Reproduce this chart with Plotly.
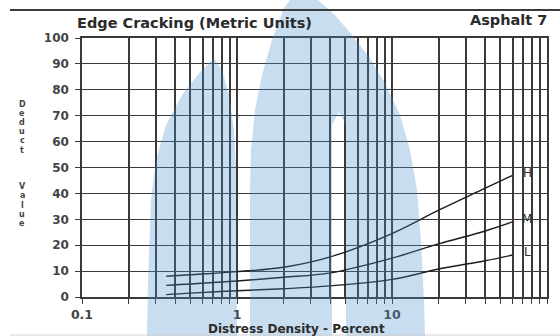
import math
import plotly.graph_objects as go

# Deduct value curves for edge cracking (asphalt), by severity level
density = [0.35, 0.5, 1, 2, 4, 10, 20, 40, 60]
high = [8.0, 8.6, 9.8, 11.5, 15.5, 24.5, 33.5, 42.0, 47.0]
medium = [4.5, 5.0, 6.2, 7.6, 9.3, 15.0, 20.5, 25.5, 29.0]
low = [0.9, 1.5, 2.4, 3.2, 4.3, 6.8, 10.8, 14.0, 16.2]
severity = ["H", "M", "L"]

y_ticks = list(range(0, 101, 10))

W, H = 560, 336
# chart frame on the page, in pixels
FX0, FX1, FY0, FY1 = 82, 547, 38, 297


def paper(px, py):
    """Pixel position on the page -> paper coordinates (no margins)."""
    return px / W, 1 - py / H


font = "DejaVu Sans"
ink = "#2b2b2b"
grid = "#3a3a3a"

fig = go.Figure()

labels = []
for name, vals in zip(severity, [high, medium, low]):
    fig.add_trace(go.Scatter(
        x=density, y=vals, mode="lines", line_shape="spline", xaxis="x", yaxis="y",
        line=dict(color="#1c1c1c", width=1.4), showlegend=False, hoverinfo="skip",
    ))
    # log axis: annotation x is given in log10 units
    labels.append(dict(
        x=math.log10(density[-1] * 1.24), y=vals[-1] + 1, xref="x", yref="y", text=name,
        showarrow=False, font=dict(family=font, size=12, color=ink),
        xanchor="center", yanchor="middle",
    ))

# translucent blue emblem over the sheet (grid and ink show through),
# drawn on a page-sized subplot in pixel units
left_lobe = [(147, 336), (148, 280), (151, 200), (156, 160), (166, 125), (182, 95),
             (200, 72), (214, 58), (222, 70), (229, 95), (234, 130), (236, 170), (237, 336)]
main_body = [(250, 336), (250, 190), (251, 150), (255, 110), (262, 75), (272, 40),
             (284, 8), (290, 0), (318, 0), (335, 15), (352, 35), (370, 58), (386, 85),
             (400, 115), (410, 150), (417, 190), (421, 240), (424, 300), (425, 336),
             (346, 336), (346, 125), (339, 112), (332, 125), (332, 336)]
for poly in (left_lobe, main_body):
    xs = [p[0] for p in poly] + [poly[0][0]]
    ys = [p[1] for p in poly] + [poly[0][1]]
    fig.add_trace(go.Scatter(
        x=xs, y=ys, xaxis="x2", yaxis="y2", mode="lines", fill="toself",
        fillcolor="rgba(72,142,205,0.3)", line=dict(width=0), showlegend=False,
        hoverinfo="skip",
    ))

# all log minor positions carry a grid line; only decades are labelled
x_vals, x_text = [], []
for dec in [0.1, 1, 10]:
    for k in range(1, 10):
        v = round(dec * k, 6)
        x_vals.append(v)
        x_text.append(str(v if v < 1 else int(v)) if k == 1 else "")
x_vals.append(100)
x_text.append("100")

fig.update_layout(
    xaxis=dict(
        domain=[FX0 / W, FX1 / W], anchor="y",
        type="log", range=[-1, 2], tickvals=x_vals, ticktext=x_text,
        showgrid=True, gridcolor=grid, gridwidth=1.5,
        ticks="outside", ticklen=5, tickcolor=grid, tickwidth=1.3,
        showline=True, linecolor=grid, linewidth=1.5, mirror=True,
        zeroline=False, ticklabelstandoff=0, automargin=False,
        tickfont=dict(family=font, size=12.5, color="#444", weight="bold"),
    ),
    yaxis=dict(
        domain=[1 - FY1 / H, 1 - FY0 / H], anchor="x",
        range=[0, 100], tickvals=y_ticks,
        showgrid=True, gridcolor=grid, gridwidth=1.4,
        ticks="outside", ticklen=5, tickcolor=grid, tickwidth=1.3,
        showline=True, linecolor=grid, linewidth=1.5, mirror=True,
        zeroline=False, ticklabelstandoff=4, automargin=False,
        tickfont=dict(family=font, size=12, color="#444", weight="bold"),
    ),
    xaxis2=dict(domain=[0, 1], range=[0, W], anchor="y2", visible=False, fixedrange=True),
    yaxis2=dict(domain=[0, 1], range=[H, 0], anchor="x2", visible=False, fixedrange=True),
)

# rule above the heading and faint edge at the foot
shapes = []
x0, y0 = paper(10, 10)
x1, _ = paper(560, 10)
shapes.append(dict(type="line", xref="paper", yref="paper", x0=x0, x1=x1, y0=y0, y1=y0,
                   line=dict(color="#3c3c3c", width=2.2)))
x0, y0 = paper(10, 335)
shapes.append(dict(type="line", xref="paper", yref="paper", x0=x0, x1=x1, y0=y0, y1=y0,
                   line=dict(color="#d0d0d0", width=1)))

annotations = list(labels)
tx, ty = paper(75, 23)
annotations.append(dict(x=tx, y=ty, xref="paper", yref="paper", text="Edge Cracking (Metric Units)",
                        showarrow=False, xanchor="left", yanchor="middle",
                        font=dict(family=font, size=14.5, color=ink, weight="bold")))
tx, ty = paper(549, 20)
annotations.append(dict(x=tx, y=ty, xref="paper", yref="paper", text="Asphalt 7",
                        showarrow=False, xanchor="right", yanchor="middle",
                        font=dict(family=font, size=14.5, color=ink, weight="bold")))
tx, ty = paper(296, 329)
annotations.append(dict(x=tx, y=ty, xref="paper", yref="paper", text="Distress Density - Percent",
                        showarrow=False, xanchor="center", yanchor="middle",
                        font=dict(family=font, size=12, color=ink, weight="bold")))

# vertical, stacked y-axis title
letters = list("Deduct") + [None] * 3 + list("Value")
y_pos = 104
for ch in letters:
    if ch is not None:
        lx, ly = paper(22, y_pos)
        annotations.append(dict(x=lx, y=ly, xref="paper", yref="paper", text=ch,
                                showarrow=False, xanchor="center", yanchor="middle",
                                font=dict(family=font, size=8, color="#444", weight="bold")))
    y_pos += 9.2

fig.update_layout(
    width=W, height=H, margin=dict(l=0, r=0, t=0, b=0, pad=0, autoexpand=False),
    paper_bgcolor="white", plot_bgcolor="rgba(0,0,0,0)",
    shapes=shapes, annotations=annotations,
)

fig.write_html("out.html")
